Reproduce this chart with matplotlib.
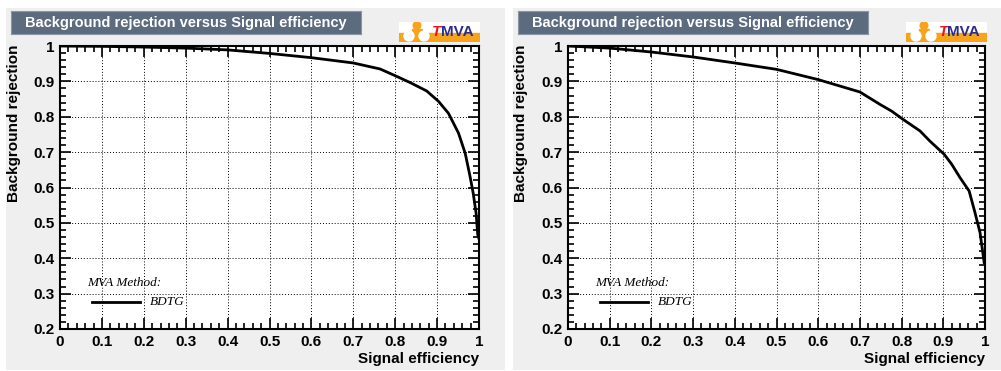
import numpy as np
import matplotlib
matplotlib.use("Agg")
import matplotlib.pyplot as plt
from matplotlib.patches import Rectangle, Circle

# ROC curves
eff_left = [0.0, 0.1, 0.2, 0.3, 0.4, 0.5, 0.6, 0.7, 0.764, 0.80, 0.835, 0.875,
            0.903, 0.927, 0.951, 0.967, 0.978, 0.986, 0.993, 0.997, 1.0]
rej_left = [1.0, 0.999, 0.997, 0.994, 0.989, 0.979, 0.967, 0.952, 0.935, 0.916,
            0.897, 0.873, 0.844, 0.81, 0.754, 0.697, 0.635, 0.585, 0.528, 0.467, 0.455]

eff_right = [0.0, 0.1, 0.2, 0.3, 0.4, 0.5, 0.6, 0.7, 0.748, 0.776, 0.803, 0.844,
             0.868, 0.902, 0.920, 0.940, 0.962, 0.976, 0.988, 0.998]
rej_right = [1.0, 0.994, 0.983, 0.969, 0.952, 0.934, 0.905, 0.870, 0.835, 0.816,
             0.793, 0.760, 0.731, 0.694, 0.666, 0.628, 0.590, 0.529, 0.473, 0.388]

title = "Background rejection versus Signal efficiency"
xlabel = "Signal efficiency"
ylabel = "Background rejection"
method = "BDTG"

W, H = 1001, 371
sans = "Liberation Sans"
serif = "Liberation Serif"

fig = plt.figure(figsize=(W / 100, H / 100), dpi=100)
fig.patch.set_facecolor("white")


def px(x0, y0, w, h):
    # pixel box (top-left origin) -> figure fraction
    return [x0 / W, 1 - (y0 + h) / H, w / W, h / H]


def panel(x0, pw, ax_left, ax_w, eff, rej):
    bg = fig.add_axes(px(x0, 8, pw, 362))
    bg.set_facecolor("#efefef")
    bg.set_xticks([])
    bg.set_yticks([])
    for s in bg.spines.values():
        s.set_visible(False)
    bg.set_zorder(-5)

    # title box
    tb = fig.add_axes(px(x0 + 5, 11, 350, 23))
    tb.set_facecolor("#5c6b7e")
    tb.set_xticks([])
    tb.set_yticks([])
    for s in tb.spines.values():
        s.set_color("#8a96a6")
        s.set_linewidth(0.8)
    tb.text(0.5, 0.5, title, color="white", fontsize=10.5, fontweight="bold",
            family=sans, ha="center", va="center", transform=tb.transAxes)

    # TMVA logo
    lg = fig.add_axes(px(x0 + 393, 22, 81, 20))
    lg.set_xlim(0, 81)
    lg.set_ylim(0, 20)
    lg.set_facecolor("white")
    lg.set_xticks([])
    lg.set_yticks([])
    for s in lg.spines.values():
        s.set_visible(False)
    lg.add_patch(Rectangle((0, 0), 81, 9, color="#f7a31c"))
    lg.add_patch(Rectangle((13, 7), 10, 6, color="#f7a31c"))
    lg.add_patch(Circle((18, 16.5), 3.8, color="#f7a31c"))
    lg.add_patch(Circle((10, 6), 5, color="white"))
    lg.add_patch(Circle((25, 6), 5, color="white"))
    lg.text(33, 9.5, "T", color="#e8141c", fontsize=11, fontweight="bold",
            style="italic", family=sans, ha="left", va="center")
    lg.text(41.5, 9.5, "MVA", color="#2b2e8f", fontsize=11, fontweight="bold",
            family=sans, ha="left", va="center")

    ax = fig.add_axes(px(ax_left, 46, ax_w, 283))
    ax.set_facecolor("white")
    ax.plot(eff, rej, color="black", lw=2)
    ax.set_xlim(0, 1)
    ax.set_ylim(0.2, 1)
    ax.set_xticks(np.arange(0, 1.01, 0.1))
    ax.set_yticks(np.arange(0.2, 1.01, 0.1))
    ax.set_xticks(np.arange(0, 1.001, 0.02), minor=True)
    ax.set_yticks(np.arange(0.2, 1.001, 0.02), minor=True)
    ax.xaxis.set_major_formatter(plt.FuncFormatter(lambda v, p: "%g" % round(v, 2)))
    ax.yaxis.set_major_formatter(plt.FuncFormatter(lambda v, p: "%g" % round(v, 2)))
    ax.tick_params(which="both", direction="in", top=True, right=True,
                   width=1.2, labelsize=11)
    ax.tick_params(which="major", length=8, pad=4)
    ax.tick_params(which="minor", length=4)
    for lab in ax.get_xticklabels() + ax.get_yticklabels():
        lab.set_fontweight("bold")
        lab.set_family(sans)
    ax.grid(True, which="major", color="black", linestyle=(0, (1, 2)), lw=0.7)
    for s in ax.spines.values():
        s.set_linewidth(1.5)

    # legend in ROOT style
    ax.text(0.066, 0.163, "MVA Method:", transform=ax.transAxes, family=serif,
            style="italic", fontsize=9.5, ha="left", va="center")
    ax.plot([0.076, 0.191], [0.095, 0.095], transform=ax.transAxes, color="black", lw=2)
    ax.text(0.215, 0.095, method, transform=ax.transAxes, family=serif,
            style="italic", fontsize=9.5, ha="left", va="center")

    fig.text((x0 + 8) / W, 1 - 45 / H, ylabel, rotation=90, family=sans,
             fontweight="bold", fontsize=11, ha="center", va="top")
    fig.text((ax_left + ax_w) / W, 1 - 359 / H, xlabel, family=sans,
             fontweight="bold", fontsize=11, ha="right", va="center")
    return ax


panel(6, 499, 60, 419, eff_left, rej_left)
panel(513, 488, 568, 417, eff_right, rej_right)

fig.savefig("out.png", dpi=100)
